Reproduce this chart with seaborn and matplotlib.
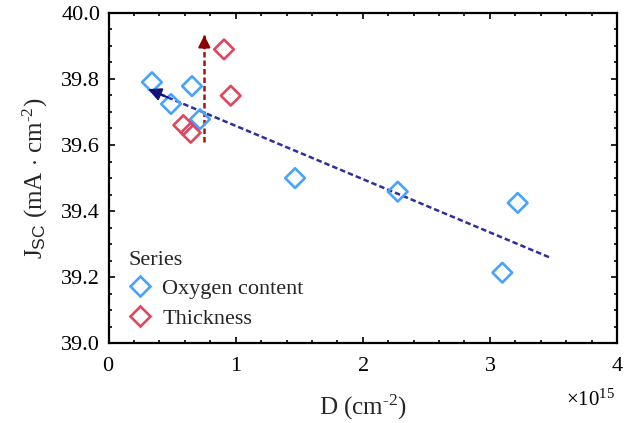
import numpy as np
import pandas as pd
import matplotlib
matplotlib.use("Agg")
import matplotlib.pyplot as plt
import matplotlib.transforms as mtransforms
import seaborn as sns
from matplotlib.ticker import MultipleLocator, ScalarFormatter, FormatStrFormatter

# ---- data ----
oxy_D = [0.341e15, 0.491e15, 0.656e15, 0.719e15, 1.467e15, 2.275e15, 3.219e15, 3.098e15]
oxy_J = [39.790, 39.724, 39.778, 39.678, 39.500, 39.459, 39.425, 39.214]
thk_D = [0.908e15, 0.961e15, 0.588e15, 0.646e15]
thk_J = [39.889, 39.749, 39.660, 39.637]
series_names = ["Oxygen content", "Thickness"]
trend_D = [3.465e15, 0.31e15]
trend_J = [39.261, 39.769]
arrow_D = [0.753e15, 0.753e15]
arrow_J = [39.610, 39.932]
x_ticks = [0, 1e15, 2e15, 3e15, 4e15]
y_ticks = [39.0, 39.2, 39.4, 39.6, 39.8, 40.0]

colors = {"Oxygen content": "#47a3ff", "Thickness": "#e0475f"}

df = pd.DataFrame({
    "D": oxy_D + thk_D,
    "J": oxy_J + thk_J,
    "Series": [series_names[0]] * len(oxy_D) + [series_names[1]] * len(thk_D),
})

sns.set_theme(style="ticks")
plt.rcParams["font.family"] = ["Liberation Serif", "DejaVu Serif"]
plt.rcParams["mathtext.fontset"] = "custom"
plt.rcParams["mathtext.rm"] = "Liberation Serif"
plt.rcParams["mathtext.it"] = "Liberation Serif:italic"
plt.rcParams["mathtext.bf"] = "Liberation Serif:bold"
plt.rcParams["mathtext.sf"] = "Liberation Sans"

fig = plt.figure(figsize=(6.4, 4.23), dpi=100)
ax = fig.add_axes([0.1697, 0.188, 0.7943, 0.782])

sns.scatterplot(data=df, x="D", y="J", hue="Series", palette=colors, marker="D",
                s=100, linewidth=1.9, ax=ax, zorder=3)
for coll in ax.collections:
    fc = coll.get_facecolor()
    coll.set_edgecolor(fc)
    coll.set_facecolor("none")

# trend line (dashed) with arrowhead
sns.lineplot(x=trend_D, y=trend_J, ax=ax, color="#2e2ea0", linestyle=(0, (2.2, 1.2)),
             linewidth=1.8, sort=False, estimator=None, zorder=2)
ax.annotate("", xy=(trend_D[1], trend_J[1]),
            xytext=(trend_D[1] + 0.05 * (trend_D[0] - trend_D[1]),
                    trend_J[1] + 0.05 * (trend_J[0] - trend_J[1])),
            arrowprops=dict(arrowstyle="-|>,head_length=0.65,head_width=0.32",
                            color="#14147a", lw=1.5, shrinkA=0, shrinkB=0))
sns.lineplot(x=arrow_D, y=arrow_J, ax=ax, color="#a31515", linestyle=(0, (2.2, 1.2)),
             linewidth=1.8, sort=False, estimator=None, zorder=2)
ax.annotate("", xy=(arrow_D[1], arrow_J[1]),
            xytext=(arrow_D[0], arrow_J[1] - 0.04),
            arrowprops=dict(arrowstyle="-|>,head_length=0.6,head_width=0.3",
                            color="#8b0000", lw=1.5, shrinkA=0, shrinkB=0))

ax.set_xlim(0, 4e15)
ax.set_ylim(39.0, 40.0)
ax.set_xticks(x_ticks)
ax.set_yticks(y_ticks)
ax.xaxis.set_minor_locator(MultipleLocator(0.2e15))
ax.yaxis.set_minor_locator(MultipleLocator(0.05))
fmt = ScalarFormatter(useMathText=True)
fmt.set_powerlimits((0, 0))
ax.xaxis.set_major_formatter(fmt)
ax.yaxis.set_major_formatter(FormatStrFormatter("%.1f"))
off = ax.xaxis.get_offset_text()
off.set_fontsize(15)
off.set_transform(off.get_transform() +
                  mtransforms.ScaledTranslation(-2 / 100, -9 / 100, fig.dpi_scale_trans))

ax.tick_params(which="both", direction="in", top=True, right=True, width=1.2,
               labelsize=16, colors="black")
ax.tick_params(which="major", length=4.5)
ax.tick_params(which="minor", length=2.5)
ax.tick_params(axis="x", which="major", pad=10)
ax.tick_params(axis="y", which="major", pad=6)
for sp in ax.spines.values():
    sp.set_linewidth(1.6)
    sp.set_color("black")

ax.set_xlabel("D (cm$^{\\text{-2}}$)", fontsize=18, labelpad=12)
ax.set_ylabel("J$_{\\mathsf{SC}}$ (mA $\\cdot$ cm$^{\\text{-2}}$)", fontsize=18, labelpad=8)

leg = ax.legend(title="Series", loc="lower left", frameon=False, fontsize=16,
                title_fontsize=16, alignment="left", handlelength=1.0,
                handletextpad=0.5, borderaxespad=0.0, borderpad=0.0,
                labelspacing=0.4, bbox_to_anchor=(0.04, 0.045))
for h in leg.legend_handles:
    try:
        c = h.get_facecolor()
        h.set_edgecolor(c)
        h.set_facecolor("none")
    except Exception:
        pass
    try:
        c = h.get_markerfacecolor()
        h.set_markeredgecolor(c)
        h.set_markerfacecolor("none")
    except Exception:
        pass

fig.savefig("out.png", dpi=100)
